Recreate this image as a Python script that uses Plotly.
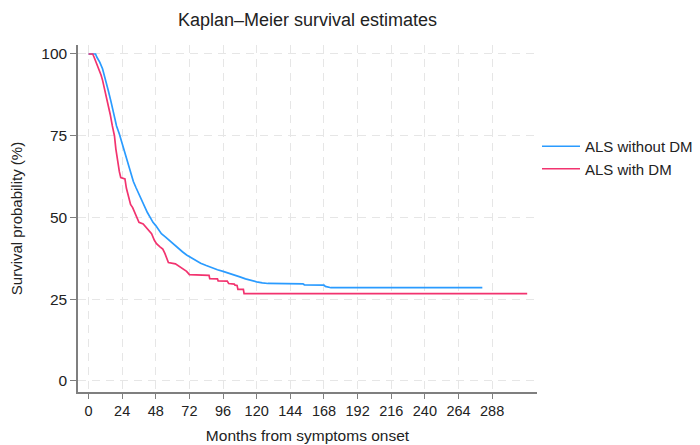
import plotly.graph_objects as go

# ALS without DM (Kaplan-Meier estimate, %)
t_nodm = [0, 5, 6, 8, 10, 12, 14, 16, 18, 20, 22, 24, 26, 28, 30, 32, 34, 36, 38, 40,
          42, 44, 46, 48, 50, 52, 55, 58, 61, 64, 67, 70, 73, 76, 80, 84, 88, 92, 96,
          100, 104, 108, 112, 116, 120, 124, 128, 153, 154, 168, 169, 173, 281]
s_nodm = [100, 100, 99, 97.5, 95.5, 92.5, 89, 85.5, 81.5, 78, 75.5, 72.5, 69.5, 66.5,
          63.5, 61, 59, 57, 55, 53, 51.5, 50, 48.5, 47.5, 46.3, 45, 44, 42.8, 41.8, 40.5,
          39.5, 38.5, 37.8, 36.9, 36, 35.3, 34.6, 34, 33.5, 33, 32.3, 31.8, 31.2, 30.7,
          30.3, 30.0, 29.8, 29.7, 29.4, 29.3, 28.9, 28.5, 28.5]

# ALS with DM (Kaplan-Meier estimate, %)
t_dm = [0, 3, 4, 5, 7, 9, 10, 12, 14, 15.5, 17, 18.5, 19.5, 20.5, 22, 23, 26, 27, 28.5,
        30, 31.5, 33, 34.5, 36, 39, 41, 43, 45, 47, 48.5, 51, 53, 54.5, 56, 57, 62, 64,
        66, 70, 72, 86, 86.5, 92, 92.5, 99, 100, 104, 104.5, 106, 106.6, 110.5, 111, 313]
s_dm = [100, 100, 99, 98, 96, 93.5, 92, 88.5, 85, 81.5, 78, 75, 71, 68, 64, 62.2, 61.8,
        59, 56, 54, 53, 51.5, 50, 48.5, 48, 47, 46.3, 45, 43, 42, 41, 40.3, 39, 37, 36.2,
        35.8, 35.2, 34.5, 33.5, 32.5, 32.3, 31.3, 31.2, 30.6, 30.5, 29.8, 29.6, 29.3,
        29.2, 28.0, 28.0, 26.7, 26.7]

x_ticks = list(range(0, 289, 24))
y_ticks = [0, 25, 50, 75, 100]

BLUE = "#2a9bff"
RED = "#f2336f"
FONT = "Liberation Sans, Arial, sans-serif"
W, H = 692, 437  # page body has an 8px margin

fig = go.Figure()
fig.add_trace(go.Scatter(x=t_nodm, y=s_nodm, mode="lines",
                         name="ALS without DM", line=dict(color=BLUE, width=1.7)))
fig.add_trace(go.Scatter(x=t_dm, y=s_dm, mode="lines",
                         name="ALS with DM", line=dict(color=RED, width=1.7)))

fig.update_layout(
    width=W, height=H,
    margin=dict(l=70, r=157, t=37, b=53),
    paper_bgcolor="white", plot_bgcolor="white",
    font=dict(family=FONT, size=14, color="#222222"),
    title=dict(text="Kaplan–Meier survival estimates", x=0.5, xref="paper",
               y=1 - 12 / H, yref="container", yanchor="middle",
               font=dict(size=18, color="#222222")),
    legend=dict(x=529 / W, xref="container", y=1 - 122 / H, yref="container",
                xanchor="left", yanchor="top", bgcolor="rgba(0,0,0,0)",
                font=dict(size=15, color="#222222"), tracegroupgap=0,
                itemwidth=38),
    showlegend=True,
)

fig.update_xaxes(
    range=[-7.5, 320], tickvals=x_ticks, ticktext=[str(v) for v in x_ticks],
    showline=True, linecolor="#7f7f7f", linewidth=1.5,
    ticks="outside", ticklen=5, tickcolor="#7f7f7f", tickwidth=1.2,
    showgrid=True, gridcolor="#e6e6e6", griddash="8px,6px", gridwidth=1,
    zeroline=False, automargin=False,
    title=dict(text="Months from symptoms onset", standoff=12, font=dict(size=15.5)),
    tickfont=dict(size=14.5),
)
fig.update_yaxes(
    range=[-3.4, 102.75], tickvals=y_ticks, ticktext=[str(v) for v in y_ticks],
    showline=True, linecolor="#7f7f7f", linewidth=1.5,
    ticks="outside", ticklen=6, tickcolor="#7f7f7f", tickwidth=1.2,
    showgrid=True, gridcolor="#e6e6e6", griddash="8px,6px", gridwidth=1,
    zeroline=False, automargin=False,
    title=dict(text="Survival probability (%)", standoff=20, font=dict(size=15)),
    tickfont=dict(size=15.5),
)

fig.write_html("out.html")
